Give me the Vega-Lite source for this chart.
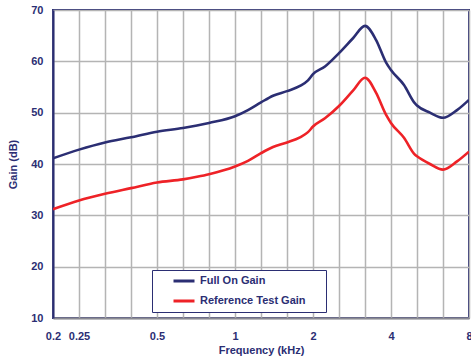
{
  "$schema": "https://vega.github.io/schema/vega-lite/v6.json",
  "width": 416,
  "height": 308,
  "autosize": {"type": "none"},
  "padding": {"left": 53, "top": 10, "right": 2, "bottom": 42},
  "background": "white",
  "config": {
    "font": "Liberation Sans",
    "view": {"stroke": "#2b2e73", "strokeWidth": 2}
  },
  "data": {
    "values": [
      {"f": 0.2, "gain": 41.1, "series": "Full On Gain"},
      {"f": 0.252, "gain": 42.8, "series": "Full On Gain"},
      {"f": 0.3175, "gain": 44.2, "series": "Full On Gain"},
      {"f": 0.4, "gain": 45.2, "series": "Full On Gain"},
      {"f": 0.504, "gain": 46.3, "series": "Full On Gain"},
      {"f": 0.635, "gain": 47.0, "series": "Full On Gain"},
      {"f": 0.719, "gain": 47.5, "series": "Full On Gain"},
      {"f": 0.8, "gain": 48.0, "series": "Full On Gain"},
      {"f": 1.008, "gain": 49.3, "series": "Full On Gain"},
      {"f": 1.131, "gain": 50.5, "series": "Full On Gain"},
      {"f": 1.27, "gain": 52.0, "series": "Full On Gain"},
      {"f": 1.413, "gain": 53.3, "series": "Full On Gain"},
      {"f": 1.6, "gain": 54.2, "series": "Full On Gain"},
      {"f": 1.796, "gain": 55.2, "series": "Full On Gain"},
      {"f": 1.928, "gain": 56.3, "series": "Full On Gain"},
      {"f": 2.016, "gain": 57.5, "series": "Full On Gain"},
      {"f": 2.242, "gain": 59.0, "series": "Full On Gain"},
      {"f": 2.54, "gain": 61.6, "series": "Full On Gain"},
      {"f": 2.876, "gain": 64.5, "series": "Full On Gain"},
      {"f": 3.2, "gain": 66.9, "series": "Full On Gain"},
      {"f": 3.528, "gain": 64.2, "series": "Full On Gain"},
      {"f": 3.856, "gain": 59.8, "series": "Full On Gain"},
      {"f": 4.03, "gain": 58.3, "series": "Full On Gain"},
      {"f": 4.525, "gain": 55.4, "series": "Full On Gain"},
      {"f": 4.99, "gain": 51.8, "series": "Full On Gain"},
      {"f": 5.08, "gain": 51.4, "series": "Full On Gain"},
      {"f": 5.7, "gain": 50.0, "series": "Full On Gain"},
      {"f": 6.4, "gain": 49.0, "series": "Full On Gain"},
      {"f": 7.25, "gain": 50.5, "series": "Full On Gain"},
      {"f": 8.06, "gain": 52.5, "series": "Full On Gain"},
      {"f": 0.2, "gain": 31.2, "series": "Reference Test Gain"},
      {"f": 0.252, "gain": 32.9, "series": "Reference Test Gain"},
      {"f": 0.3175, "gain": 34.2, "series": "Reference Test Gain"},
      {"f": 0.4, "gain": 35.3, "series": "Reference Test Gain"},
      {"f": 0.504, "gain": 36.4, "series": "Reference Test Gain"},
      {"f": 0.635, "gain": 37.0, "series": "Reference Test Gain"},
      {"f": 0.719, "gain": 37.5, "series": "Reference Test Gain"},
      {"f": 0.8, "gain": 38.0, "series": "Reference Test Gain"},
      {"f": 1.008, "gain": 39.5, "series": "Reference Test Gain"},
      {"f": 1.131, "gain": 40.6, "series": "Reference Test Gain"},
      {"f": 1.27, "gain": 42.1, "series": "Reference Test Gain"},
      {"f": 1.413, "gain": 43.3, "series": "Reference Test Gain"},
      {"f": 1.6, "gain": 44.2, "series": "Reference Test Gain"},
      {"f": 1.796, "gain": 45.2, "series": "Reference Test Gain"},
      {"f": 1.928, "gain": 46.2, "series": "Reference Test Gain"},
      {"f": 2.016, "gain": 47.3, "series": "Reference Test Gain"},
      {"f": 2.242, "gain": 48.9, "series": "Reference Test Gain"},
      {"f": 2.54, "gain": 51.3, "series": "Reference Test Gain"},
      {"f": 2.876, "gain": 54.3, "series": "Reference Test Gain"},
      {"f": 3.2, "gain": 56.8, "series": "Reference Test Gain"},
      {"f": 3.528, "gain": 53.9, "series": "Reference Test Gain"},
      {"f": 3.856, "gain": 49.6, "series": "Reference Test Gain"},
      {"f": 4.03, "gain": 48.0, "series": "Reference Test Gain"},
      {"f": 4.525, "gain": 45.1, "series": "Reference Test Gain"},
      {"f": 4.99, "gain": 41.8, "series": "Reference Test Gain"},
      {"f": 5.08, "gain": 41.5, "series": "Reference Test Gain"},
      {"f": 5.7, "gain": 40.0, "series": "Reference Test Gain"},
      {"f": 6.4, "gain": 38.9, "series": "Reference Test Gain"},
      {"f": 7.25, "gain": 40.5, "series": "Reference Test Gain"},
      {"f": 8.06, "gain": 42.4, "series": "Reference Test Gain"}
    ]
  },
  "mark": {"type": "line", "strokeWidth": 2.6, "interpolate": "monotone", "clip": true},
  "encoding": {
    "x": {
      "field": "f",
      "type": "quantitative",
      "scale": {"type": "log", "domain": [0.2, 8.06349], "nice": false},
      "axis": {
        "title": "Frequency (kHz)",
        "values": [0.2, 0.25198, 0.31748, 0.4, 0.50397, 0.63496, 0.8, 1.00794, 1.26992, 1.6, 2.01587, 2.53984, 3.2, 4.03175, 5.07968, 6.4, 8.06349],
        "labelExpr": "abs(datum.value-0.2)<0.01?'0.2':abs(datum.value-0.252)<0.01?'0.25':abs(datum.value-0.504)<0.01?'0.5':abs(datum.value-1.008)<0.01?'1':abs(datum.value-2.016)<0.01?'2':abs(datum.value-4.032)<0.02?'4':abs(datum.value-8.063)<0.02?'8':''",
        "grid": true,
        "gridColor": "#b4b4b4",
        "gridWidth": 1.5,
        "gridOpacity": 1,
        "ticks": false,
        "domainColor": "#8a8a92",
        "domainWidth": 2,
        "labelColor": "#2b2e73",
        "labelFont": "Liberation Sans",
        "labelFontSize": 11,
        "labelFontWeight": "bold",
        "labelPadding": 12,
        "labelOverlap": false,
        "labelFlush": false,
        "titleColor": "#2b2e73",
        "titleFont": "Liberation Sans",
        "titleFontSize": 11,
        "titleFontWeight": "bold",
        "titlePadding": 3
      }
    },
    "y": {
      "field": "gain",
      "type": "quantitative",
      "scale": {"domain": [10, 70], "nice": false, "zero": false},
      "axis": {
        "title": "Gain (dB)",
        "values": [10, 20, 30, 40, 50, 60, 70],
        "grid": true,
        "gridColor": "#b4b4b4",
        "gridWidth": 1.5,
        "gridOpacity": 1,
        "ticks": false,
        "domainColor": "#2b2e73",
        "domainWidth": 2,
        "labelColor": "#2b2e73",
        "labelFont": "Liberation Sans",
        "labelFontSize": 11,
        "labelFontWeight": "bold",
        "labelPadding": 10,
        "titleColor": "#2b2e73",
        "titleFont": "Liberation Sans",
        "titleFontSize": 11,
        "titleFontWeight": "bold",
        "titlePadding": 12
      }
    },
    "color": {
      "field": "series",
      "type": "nominal",
      "scale": {"domain": ["Full On Gain", "Reference Test Gain"], "range": ["#2b2e73", "#ee2227"]},
      "legend": {
        "title": "\u2800\u2800",
        "titleOrient": "right",
        "titlePadding": 0,
        "titleFontSize": 11,
        "titleColor": "white",
        "orient": "none",
        "legendX": 99,
        "legendY": 260,
        "fillColor": "white",
        "strokeColor": "#2b2e73",
        "padding": 4,
        "symbolOffset": 16,
        "symbolType": "stroke",
        "symbolSize": 441,
        "symbolStrokeWidth": 3,
        "clipHeight": 14,
        "labelColor": "#2b2e73",
        "labelFont": "Liberation Sans",
        "labelFontSize": 11,
        "labelFontWeight": "bold",
        "labelPadding": 2,
        "labelLimit": 400,
        "rowPadding": 6
      }
    }
  }
}
